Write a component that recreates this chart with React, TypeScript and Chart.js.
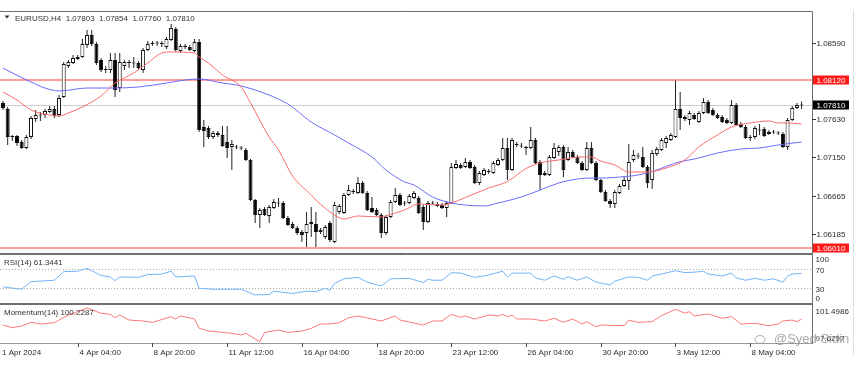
import React, { useEffect, useRef } from 'react';
import { Chart, registerables } from 'chart.js';
Chart.register(...registerables);

// ---------- DATA (EURUSD H4) ----------
const opens = [
1.07835,1.07759,1.07419,1.07419,1.07343,1.07268,1.07406,1.07633,1.07676,1.07683,
1.07721,1.07759,1.07683,1.07910,1.08300,1.08338,1.08389,1.08414,1.08565,1.08691,
1.08577,1.08376,1.08255,1.08250,1.08376,1.08023,1.08300,1.08338,1.08338,1.08338,
1.08250,1.08502,1.08577,1.08590,1.08577,1.08540,1.08628,1.08766,1.08489,1.08552,
1.08540,1.08489,1.08603,1.07532,1.07520,1.07406,1.07432,1.07432,1.07343,1.07281,
1.07281,1.07268,1.07243,1.07117,1.06613,1.06424,1.06500,1.06412,1.06513,1.06575,
1.06575,1.06387,1.06311,1.06261,1.06210,1.06198,1.06336,1.06311,1.06236,1.06147,
1.06324,1.06084,1.06462,1.06450,1.06676,1.06714,1.06701,1.06827,1.06701,1.06513,
1.06487,1.06424,1.06198,1.06399,1.06588,1.06676,1.06575,1.06575,1.06638,1.06638,
1.06525,1.06336,1.06575,1.06538,1.06550,1.06513,1.06575,1.07016,1.07054,1.07029,
1.07092,1.07029,1.06827,1.06928,1.06966,1.06953,1.07054,1.07117,1.07268,1.06991,
1.07306,1.07293,1.07268,1.07268,1.07369,1.07092,1.06953,1.06928,1.07142,1.07218,
1.07281,1.07117,1.07218,1.07155,1.07079,1.06991,1.07268,1.07079,1.06865,1.06714,
1.06601,1.06563,1.06701,1.06790,1.06852,1.07117,1.07167,1.07155,1.07029,1.06865,
1.07192,1.07243,1.07331,1.07369,1.07406,1.07759,1.07658,1.07620,1.07683,1.07595,
1.07709,1.07847,1.07746,1.07683,1.07658,1.07620,1.07583,1.07809,1.07570,1.07532,
1.07394,1.07406,1.07495,1.07507,1.07444,1.07469,1.07457,1.07444,1.07281,1.07620,
1.07772,1.07803];
const highs = [
1.07860,1.07784,1.07432,1.07432,1.07369,1.07432,1.07671,1.07746,1.07721,1.07759,
1.07797,1.07797,1.07935,1.08351,1.08376,1.08439,1.08439,1.08640,1.08754,1.08754,
1.08603,1.08401,1.08300,1.08464,1.08464,1.08464,1.08376,1.08376,1.08414,1.08363,
1.08527,1.08615,1.08615,1.08615,1.08615,1.08666,1.08829,1.08791,1.08577,1.08577,
1.08565,1.08640,1.08640,1.07620,1.07545,1.07482,1.07482,1.07545,1.07545,1.07369,
1.07306,1.07293,1.07268,1.07129,1.06626,1.06513,1.06525,1.06550,1.06626,1.06638,
1.06601,1.06412,1.06336,1.06286,1.06236,1.06462,1.06525,1.06462,1.06261,1.06298,
1.06349,1.06588,1.06563,1.06701,1.06802,1.06752,1.06903,1.06852,1.06727,1.06651,
1.06513,1.06450,1.06424,1.06613,1.06764,1.06701,1.06601,1.06689,1.06727,1.06664,
1.06550,1.06601,1.06601,1.06588,1.06575,1.06601,1.07079,1.07117,1.07079,1.07142,
1.07117,1.07054,1.06978,1.07016,1.07004,1.07104,1.07142,1.07394,1.07394,1.07394,
1.07343,1.07331,1.07293,1.07532,1.07394,1.07117,1.06978,1.07180,1.07331,1.07306,
1.07306,1.07281,1.07243,1.07180,1.07104,1.07343,1.07343,1.07104,1.06878,1.06739,
1.06626,1.06739,1.06815,1.06903,1.07318,1.07243,1.07205,1.07281,1.07054,1.07243,
1.07281,1.07394,1.07419,1.07457,1.08118,1.07973,1.07683,1.07734,1.07709,1.07734,
1.07898,1.07872,1.07772,1.07709,1.07683,1.07646,1.07872,1.07835,1.07595,1.07558,
1.07432,1.07545,1.07570,1.07532,1.07495,1.07495,1.07482,1.07469,1.07646,1.07797,
1.07835,1.07854];
const lows = [
1.07746,1.07306,1.07356,1.07293,1.07255,1.07255,1.07381,1.07595,1.07608,1.07646,
1.07709,1.07646,1.07658,1.07898,1.08275,1.08326,1.08376,1.08401,1.08527,1.08552,
1.08313,1.08225,1.08212,1.08212,1.07910,1.07973,1.08250,1.08275,1.08275,1.08250,
1.08212,1.08489,1.08552,1.08552,1.08540,1.08514,1.08615,1.08477,1.08464,1.08514,
1.08489,1.08477,1.07469,1.07281,1.07381,1.07381,1.07406,1.07281,1.07142,1.06991,
1.07255,1.07243,1.07104,1.06601,1.06324,1.06261,1.06412,1.06324,1.06500,1.06525,
1.06374,1.06286,1.06248,1.06173,1.06084,1.06021,1.06147,1.06021,1.06185,1.06122,
1.06084,1.06072,1.06437,1.06437,1.06664,1.06689,1.06689,1.06689,1.06475,1.06450,
1.06412,1.06135,1.06173,1.06387,1.06575,1.06538,1.06538,1.06563,1.06626,1.06437,
1.06236,1.06324,1.06550,1.06525,1.06500,1.06399,1.06563,1.07004,1.07004,1.07016,
1.07004,1.06815,1.06802,1.06915,1.06941,1.06941,1.07041,1.07104,1.06865,1.06978,
1.07281,1.07268,1.07180,1.07255,1.07067,1.06739,1.06915,1.06915,1.07129,1.07167,
1.06903,1.07104,1.07142,1.07067,1.06978,1.06978,1.07067,1.06852,1.06701,1.06588,
1.06513,1.06513,1.06689,1.06777,1.06739,1.07092,1.07129,1.07016,1.06764,1.06752,
1.07167,1.07230,1.07268,1.07356,1.07394,1.07495,1.07608,1.07558,1.07620,1.07583,
1.07696,1.07696,1.07671,1.07633,1.07583,1.07570,1.07570,1.07545,1.07520,1.07381,
1.07356,1.07381,1.07432,1.07406,1.07432,1.07444,1.07432,1.07268,1.07243,1.07608,
1.07759,1.07760];
const closes = [
1.07772,1.07406,1.07406,1.07331,1.07268,1.07406,1.07646,1.07683,1.07683,1.07734,
1.07759,1.07671,1.07898,1.08326,1.08351,1.08401,1.08414,1.08577,1.08691,1.08577,
1.08338,1.08250,1.08250,1.08376,1.07998,1.08351,1.08351,1.08351,1.08332,1.08275,
1.08502,1.08577,1.08590,1.08584,1.08582,1.08640,1.08779,1.08502,1.08552,1.08540,
1.08502,1.08603,1.07495,1.07482,1.07406,1.07457,1.07457,1.07293,1.07268,1.07318,
1.07275,1.07262,1.07117,1.06613,1.06424,1.06487,1.06424,1.06525,1.06588,1.06569,
1.06387,1.06298,1.06261,1.06198,1.06173,1.06311,1.06311,1.06210,1.06210,1.06273,
1.06110,1.06550,1.06538,1.06676,1.06739,1.06720,1.06827,1.06701,1.06487,1.06462,
1.06424,1.06198,1.06399,1.06588,1.06676,1.06550,1.06569,1.06664,1.06701,1.06450,
1.06336,1.06575,1.06569,1.06563,1.06513,1.06575,1.07029,1.07067,1.07016,1.07092,
1.07016,1.06827,1.06953,1.06991,1.06972,1.07079,1.07117,1.07268,1.06991,1.07369,
1.07312,1.07287,1.07270,1.07369,1.07079,1.06928,1.06928,1.07155,1.07268,1.07281,
1.06991,1.07218,1.07155,1.07079,1.06991,1.07268,1.07079,1.06865,1.06714,1.06601,
1.06563,1.06714,1.06790,1.06865,1.07092,1.07180,1.07161,1.07029,1.06827,1.07205,
1.07255,1.07369,1.07394,1.07432,1.07759,1.07646,1.07633,1.07709,1.07633,1.07709,
1.07847,1.07709,1.07683,1.07646,1.07595,1.07583,1.07809,1.07558,1.07532,1.07394,
1.07406,1.07520,1.07488,1.07419,1.07469,1.07463,1.07450,1.07281,1.07620,1.07772,
1.07809,1.07810];

// Moving averages (bar index, value)
const redMaIdx = [0,3,6,10,12,14,17,21,24,28,31,34,36,41,42,44,47,51,53,57,59,62,66,67,71,73,76,81,84,86,89,94,96,99,104,108,112,115,119,124,126,128,131,134,138,142,146,149,153,156,160,164,166,168,171];
const redMaVal = [1.07973,1.07872,1.07746,1.07683,1.07671,1.07709,1.07784,1.07923,1.08086,1.08212,1.08338,1.08464,1.08477,1.08464,1.08414,1.08338,1.08187,1.08036,1.07835,1.07406,1.07243,1.06915,1.06676,1.06613,1.06424,1.06374,1.06412,1.06399,1.06450,1.06487,1.06563,1.06550,1.06575,1.06645,1.06764,1.06846,1.07010,1.07079,1.07117,1.07155,1.07155,1.07104,1.07054,1.06966,1.06966,1.07016,1.07117,1.07281,1.07432,1.07532,1.07583,1.07608,1.07583,1.07583,1.07570];
const blueMaIdx = [0,2,6,9,12,18,24,29,35,39,42,47,50,54,61,66,71,74,79,82,86,88,92,96,99,103,106,111,115,119,123,126,129,132,136,140,144,149,153,158,162,166,171];
const blueMaVal = [1.08275,1.08212,1.08099,1.08023,1.07986,1.08023,1.08023,1.08036,1.08086,1.08124,1.08137,1.08086,1.08061,1.07998,1.07822,1.07595,1.07432,1.07331,1.07155,1.06991,1.06840,1.06802,1.06651,1.06575,1.06550,1.06538,1.06575,1.06651,1.06739,1.06827,1.06878,1.06890,1.06890,1.06903,1.06928,1.06991,1.07079,1.07142,1.07205,1.07255,1.07268,1.07306,1.07343];

const rsiIdx = [0,4,6,11,13,16,18,21,23,24,25,29,31,34,36,37,41,42,45,51,54,57,58,62,65,67,69,70,71,73,76,78,81,83,87,90,91,92,94,96,98,101,104,107,108,109,113,114,116,118,120,121,123,125,127,130,131,134,136,138,139,141,144,146,148,150,151,154,156,157,159,161,163,165,167,168,169,171];
const rsiVal = [33,28,44,47,65,66,72,57,54,46,54,53,59,60,66,54,56,30,28,28,16,17,24,19,24,23,30,26,40,50,53,43,35,50,51,42,49,47,47,63,62,53,58,66,54,62,62,52,47,56,49,54,47,54,43,37,45,54,53,47,56,60,67,63,64,66,60,56,62,52,47,51,47,50,43,56,60,61.3441];

const momIdx = [0,2,4,6,8,11,12,14,16,18,21,23,24,25,27,30,32,36,37,38,41,42,44,49,51,52,55,56,59,61,64,66,68,70,72,74,76,81,84,85,90,92,94,96,98,99,101,104,106,107,108,109,110,113,116,118,120,122,124,125,127,128,133,134,136,139,141,144,146,147,148,151,154,156,158,161,164,166,167,169,170,171];
const momVal = [99.56,99.26,99.45,99.87,99.68,99.83,100.13,100.70,101.08,101.4986,100.90,100.78,100.39,100.70,100.13,100.02,99.87,100.51,100.25,100.59,100.25,99.19,98.88,98.62,98.43,98.62,97.66,98.73,98.99,98.73,98.88,99.19,99.68,99.68,99.83,100.39,100.59,100.02,100.59,100.13,99.56,100.02,100.02,100.78,100.44,100.59,100.25,100.70,100.59,100.78,100.51,100.70,100.25,100.25,100.02,100.33,99.87,100.25,99.68,99.94,99.37,99.56,99.48,100.13,99.87,99.94,100.62,101.35,100.90,101.08,100.59,100.82,100.33,100.51,99.68,99.76,99.48,99.68,100.02,100.13,99.94,100.2287];

const priceTicks = [1.0859, 1.0763, 1.0715, 1.06665, 1.06185];
const levelHigh = 1.0812;
const levelLow = 1.0601;
const rsiLevels = [70, 30];
const rsiAxisLabels = [100, 70, 30, 0];
const momMaxLabel = '101.4986';
const momMinLabel = '97.6297';
const xLabelIdx = [0, 16, 32, 48, 64, 80, 96, 112, 128, 144, 160];
const xLabels = ['1 Apr 2024', '4 Apr 04:00', '8 Apr 20:00', '11 Apr 12:00', '16 Apr 04:00', '18 Apr 20:00', '23 Apr 12:00', '26 Apr 04:00', '30 Apr 20:00', '3 May 12:00', '8 May 04:00'];
const symbolTitle = 'EURUSD,H4  1.07803  1.07854  1.07760  1.07810';

// ---------- STYLE ----------
const FONT = '8px "Liberation Sans", Arial, sans-serif';
const TXT = '#2a2a2a';
const FRAME = '#6f6f6f';
const X_MIN = -0.642;
const X_MAX = 173.23;
const RIGHT_PAD = 53;

const xScale = { type: 'linear', min: X_MIN, max: X_MAX, offset: false, display: false };

function text(ctx: any, s: string, x: number, y: number, color = TXT, align = 'left', base = 'middle', font = FONT) {
  ctx.save();
  ctx.font = font;
  ctx.fillStyle = color;
  ctx.textAlign = align;
  ctx.textBaseline = base;
  ctx.fillText(s, x, y);
  ctx.restore();
}
function hline(ctx: any, x1: number, x2: number, y: number, color: string, w = 1) {
  ctx.save();
  ctx.strokeStyle = color;
  ctx.lineWidth = w;
  ctx.beginPath();
  ctx.moveTo(x1, y);
  ctx.lineTo(x2, y);
  ctx.stroke();
  ctx.restore();
}
function vline(ctx: any, x: number, y1: number, y2: number, color: string, w = 1) {
  ctx.save();
  ctx.strokeStyle = color;
  ctx.lineWidth = w;
  ctx.beginPath();
  ctx.moveTo(x, y1);
  ctx.lineTo(x, y2);
  ctx.stroke();
  ctx.restore();
}

const mainPlugin = {
  id: 'mainDecor',
  beforeDatasetsDraw(chart: any) {
    const { ctx, chartArea: a, scales: { y } } = chart;
    const py = (v: number) => Math.round(y.getPixelForValue(v));
    hline(ctx, a.left, a.right, py(closes[closes.length - 1]) + 0.5, '#cdcdcd', 1);
    hline(ctx, a.left, a.right, py(levelHigh), '#ff9d9d', 2);
    hline(ctx, a.left, a.right, py(levelLow), '#ff9d9d', 2);
  },
  afterDraw(chart: any) {
    const { ctx, chartArea: a, scales: { y } } = chart;
    // frame
    hline(ctx, 0, a.right + 0.5, a.top - 0.5, FRAME, 1);
    hline(ctx, 0, a.right + 0.5, a.bottom + 0.5, FRAME, 1);
    vline(ctx, a.right + 0.5, a.top - 0.5, a.bottom + 1, FRAME, 1);
    vline(ctx, 853.5, 10, chart.height, '#dedede', 1);
    // right price axis
    priceTicks.forEach((v) => {
      const p = Math.round(y.getPixelForValue(v)) + 0.5;
      hline(ctx, a.right, a.right + 4, p, '#333', 1);
      text(ctx, v.toFixed(5), a.right + 4.5, p + 0.5);
    });
    const box = (v: number, bg: string) => {
      let p = Math.round(y.getPixelForValue(v));
      if (p + 5 > a.bottom) p = a.bottom - 4;
      ctx.save();
      ctx.fillStyle = bg;
      ctx.fillRect(a.right + 1, p - 4.5, 36, 9);
      ctx.restore();
      text(ctx, v.toFixed(5), a.right + 4.5, p + 0.5, '#ffffff');
    };
    box(levelHigh, '#ff1a1a');
    box(closes[closes.length - 1], '#000000');
    box(levelLow, '#ff1a1a');
    // header
    ctx.save();
    ctx.fillStyle = '#333';
    ctx.beginPath();
    ctx.moveTo(4.5, 15.5);
    ctx.lineTo(9.5, 15.5);
    ctx.lineTo(7, 18.5);
    ctx.closePath();
    ctx.fill();
    ctx.restore();
    text(ctx, symbolTitle, 15, 18.5, '#333');
  },
};

const rsiPlugin = {
  id: 'rsiDecor',
  beforeDatasetsDraw(chart: any) {
    const { ctx, chartArea: a, scales: { y } } = chart;
    ctx.save();
    ctx.setLineDash([1, 2]);
    rsiLevels.forEach((v) => hline(ctx, a.left, a.right, Math.round(y.getPixelForValue(v)) + 0.5, '#a8a8a8', 1));
    ctx.restore();
  },
  afterDraw(chart: any) {
    const { ctx, chartArea: a, scales: { y } } = chart;
    hline(ctx, 0, a.right + 0.5, a.top - 0.5, FRAME, 1);
    hline(ctx, 0, a.right + 0.5, a.bottom + 0.5, FRAME, 1);
    vline(ctx, a.right + 0.5, a.top - 1, a.bottom + 1, FRAME, 1);
    vline(ctx, 853.5, 0, chart.height, '#dedede', 1);
    text(ctx, 'RSI(14) 61.3441', 4, a.top + 7.5, '#333');
    rsiAxisLabels.forEach((v) => {
      const p = y.getPixelForValue(v);
      let yy = p + 1;
      if (v === 100) yy = p + 5;
      if (v === 0) yy = p - 4;
      text(ctx, String(v), a.right + 3.5, yy);
    });
  },
};

const momPlugin = {
  id: 'momDecor',
  afterDraw(chart: any) {
    const { ctx, chartArea: a, scales: { x } } = chart;
    hline(ctx, 0, a.right + 0.5, a.top - 0.5, FRAME, 1);
    hline(ctx, 0, a.right + 0.5, a.bottom + 0.5, '#9a9a9a', 1);
    vline(ctx, a.right + 0.5, a.top - 1, a.bottom + 1, FRAME, 1);
    vline(ctx, 853.5, 0, 51, '#dedede', 1);
    text(ctx, 'Momentum(14) 100.2287', 4, a.top + 7.5, '#333');
    text(ctx, momMaxLabel, a.right + 3.5, a.top + 6.5);
    // watermark
    ctx.save();
    ctx.strokeStyle = 'rgba(150,150,150,0.75)';
    ctx.lineWidth = 1;
    ctx.beginPath();
    ctx.ellipse(760, a.top + 34.5, 5, 4, 0, 0, Math.PI * 2);
    ctx.stroke();
    ctx.restore();
    text(ctx, '@Syed Sidin', 774, a.top + 34, 'rgba(140,140,140,0.75)', 'left', 'middle', '13px "Liberation Sans", Arial, sans-serif');
    text(ctx, momMinLabel, a.right + 3.5, a.top + 34, 'rgba(40,40,40,0.8)');
    // x axis
    xLabelIdx.forEach((idx, k) => {
      const px = Math.round(x.getPixelForValue(idx)) + 0.5;
      if (k > 0) vline(ctx, px, a.bottom, a.bottom + 4, '#444', 1);
      text(ctx, xLabels[k], k === 0 ? 2 : px + 1, a.bottom + 9.5, TXT);
    });
  },
};

const baseOptions = (padding: any) => ({
  responsive: false,
  animation: false,
  devicePixelRatio: 1,
  events: [],
  layout: { padding },
  plugins: { legend: { display: false }, tooltip: { enabled: false } },
});

export default function App() {
  const mainRef = useRef<HTMLCanvasElement>(null);
  const rsiRef = useRef<HTMLCanvasElement>(null);
  const momRef = useRef<HTMLCanvasElement>(null);

  useEffect(() => {
    document.body.style.margin = '0';
    const charts: Chart[] = [];
    const idx = closes.map((_, i) => i);

    charts.push(new Chart(mainRef.current as HTMLCanvasElement, {
      type: 'bar',
      data: {
        datasets: [
          {
            type: 'line', label: 'MA fast', order: 0,
            data: redMaIdx.map((i, k) => ({ x: i, y: redMaVal[k] })),
            borderColor: '#ff6b6b', borderWidth: 1, pointRadius: 0, cubicInterpolationMode: 'monotone',
          },
          {
            type: 'line', label: 'MA slow', order: 0,
            data: blueMaIdx.map((i, k) => ({ x: i, y: blueMaVal[k] })),
            borderColor: '#6b6bff', borderWidth: 1, pointRadius: 0, cubicInterpolationMode: 'monotone',
          },
          {
            type: 'bar', label: 'body', order: 1, grouped: false,
            data: idx.map((i) => ({ x: i, y: [opens[i], closes[i]] })),
            backgroundColor: idx.map((i) => (closes[i] >= opens[i] ? '#ffffff' : '#000000')),
            borderColor: '#111', borderWidth: 1, borderSkipped: false, barThickness: 4, minBarLength: 1, inflateAmount: 0,
          },
          {
            type: 'bar', label: 'wick', order: 2, grouped: false,
            data: idx.map((i) => ({ x: i, y: [lows[i], highs[i]] })),
            backgroundColor: '#222', borderWidth: 0, barThickness: 1, inflateAmount: 0,
          },
        ],
      } as any,
      options: {
        ...baseOptions({ left: 0, right: RIGHT_PAD, top: 12, bottom: 1 }),
        scales: {
          x: xScale,
          y: { type: 'linear', min: 1.05946, max: 1.0898, display: false },
        },
      } as any,
      plugins: [mainPlugin],
    }));

    charts.push(new Chart(rsiRef.current as HTMLCanvasElement, {
      type: 'line',
      data: {
        datasets: [{
          data: rsiIdx.map((i, k) => ({ x: i, y: rsiVal[k] })),
          borderColor: '#72b4f7', borderWidth: 1, pointRadius: 0, tension: 0,
        }],
      } as any,
      options: {
        ...baseOptions({ left: 0, right: RIGHT_PAD, top: 1, bottom: 1 }),
        scales: { x: xScale, y: { type: 'linear', min: -0.9, max: 100.1, display: false } },
      } as any,
      plugins: [rsiPlugin],
    }));

    charts.push(new Chart(momRef.current as HTMLCanvasElement, {
      type: 'line',
      data: {
        datasets: [{
          data: momIdx.map((i, k) => ({ x: i, y: momVal[k] })),
          borderColor: '#ff7676', borderWidth: 1, pointRadius: 0, tension: 0,
        }],
      } as any,
      options: {
        ...baseOptions({ left: 0, right: RIGHT_PAD, top: 1, bottom: 24 }),
        scales: { x: xScale, y: { type: 'linear', min: 97.52, max: 101.84, display: false } },
      } as any,
      plugins: [momPlugin],
    }));

    return () => charts.forEach((c) => c.destroy());
  }, []);

  return (
    <div style={{ position: 'relative', width: 865, height: 367, background: '#ffffff', overflow: 'hidden' }}>
      <style>{'body{margin:0}'}</style>
      <canvas ref={mainRef} width={865} height={254} style={{ position: 'absolute', left: 0, top: 0 }} />
      <canvas ref={rsiRef} width={865} height={50} style={{ position: 'absolute', left: 0, top: 254 }} />
      <canvas ref={momRef} width={865} height={63} style={{ position: 'absolute', left: 0, top: 304 }} />
    </div>
  );
}
